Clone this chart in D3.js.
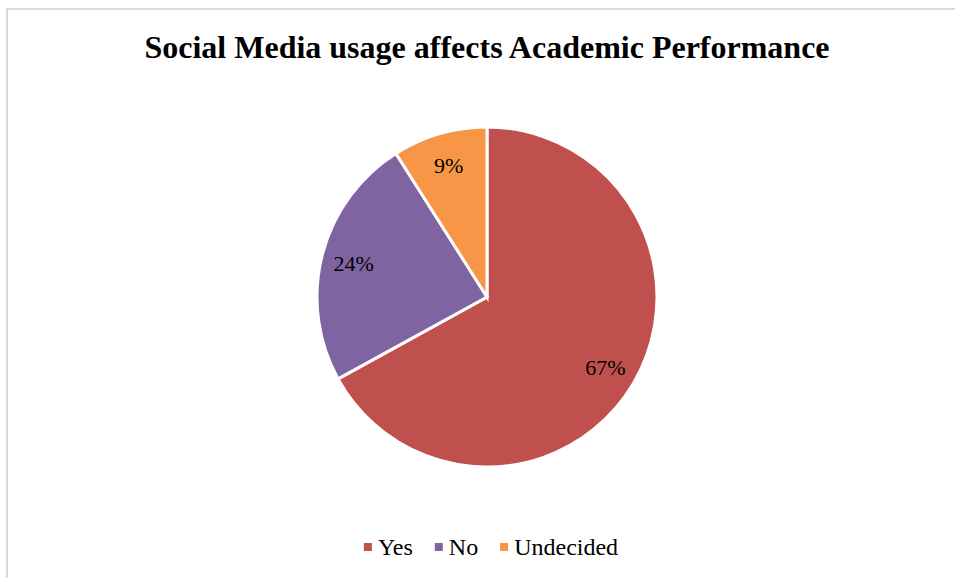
<!DOCTYPE html>
<html>
<head>
<meta charset="utf-8">
<script src="https://cdn.jsdelivr.net/npm/d3@7"></script>
<style>
  html, body { margin: 0; padding: 0; background: #fff; }
  svg { display: block; }
  svg text { font-family: "Liberation Serif", "Times New Roman", Times, serif; }
</style>
</head>
<body>
<svg id="chart" width="955" height="578"></svg>
<script>
// Survey responses
const categories = ["Yes", "No", "Undecided"];
const values = [67, 24, 9];
const colors = ["#C0504D", "#8064A2", "#F79646"];
const titleText = "Social Media usage affects Academic Performance";

const W = 955, H = 578;
const svg = d3.select("#chart");

// chart frame
svg.append("rect")
  .attr("x", 7).attr("y", 9)
  .attr("width", W + 10).attr("height", H + 10)
  .attr("fill", "#fff")
  .attr("stroke", "#d9d9d9").attr("stroke-width", 2);

// title
svg.append("text")
  .attr("x", 487).attr("y", 58)
  .attr("text-anchor", "middle")
  .style("font-weight", "bold")
  .style("font-size", "32px")
  .attr("fill", "#000")
  .text(titleText);

// pie
const cx = 487, cy = 297, r = 170;
const data = categories.map((c, i) => ({ cat: c, value: values[i], color: colors[i] }));
const pie = d3.pie().value(d => d.value).sort(null);
const arc = d3.arc().innerRadius(0).outerRadius(r);
const labelArc = d3.arc().innerRadius(r * 0.81).outerRadius(r * 0.81);

const g = svg.append("g").attr("transform", `translate(${cx},${cy})`);
const arcs = pie(data);

g.selectAll("path.slice")
  .data(arcs)
  .join("path")
  .attr("class", "slice")
  .attr("d", arc)
  .attr("fill", d => d.data.color)
  .attr("stroke", "#fff")
  .attr("stroke-width", 3)
  .attr("stroke-linejoin", "miter");

const total = d3.sum(values);
g.selectAll("text.pct")
  .data(arcs)
  .join("text")
  .attr("class", "pct")
  .attr("transform", d => `translate(${labelArc.centroid(d)})`)
  .attr("text-anchor", "middle")
  .attr("dy", "0.38em")
  .style("font-size", "22px")
  .attr("fill", "#000")
  .text(d => Math.round(d.data.value / total * 100) + "%");

// legend
const legendY = 547;
const legend = svg.append("g");
const items = legend.selectAll("g.item").data(data).join("g").attr("class", "item");
items.append("rect")
  .attr("width", 8).attr("height", 8)
  .attr("y", legendY - 4)
  .attr("fill", d => d.color);
items.append("text")
  .attr("x", 14)
  .attr("y", legendY + 8)
  .style("font-size", "24px")
  .attr("fill", "#000")
  .text(d => d.cat);

let x = 0;
items.each(function() {
  const el = d3.select(this);
  el.attr("transform", `translate(${x},0)`);
  const w = this.getBBox().width;
  x += w + 22;
});
const legendWidth = x - 22;
legend.attr("transform", `translate(${491 - legendWidth / 2},0)`);
</script>
</body>
</html>
